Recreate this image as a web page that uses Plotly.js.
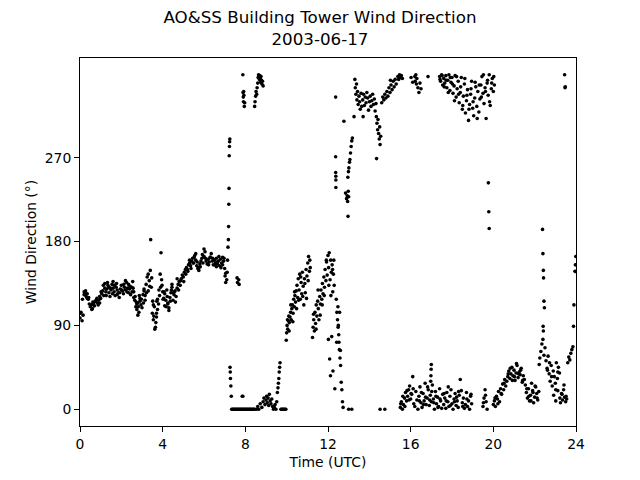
<!DOCTYPE html>
<html>
<head>
<meta charset="utf-8">
<script src="https://cdn.plot.ly/plotly-3.0.1.min.js"></script>
<style>html,body{margin:0;padding:0;background:#fff;}#chart{width:640px;height:480px;}</style>
</head>
<body>
<div id="chart"></div>
<script>
// Time (UTC hours) and wind direction (degrees), by segment
const morningHours = [
0.00,0.05,0.10,0.15,0.20,0.25,0.30,0.35,0.40,0.45,
0.50,0.55,0.60,0.65,0.70,0.75,0.80,0.85,0.90,0.95,
1.00,1.05,1.10,1.15,1.20,1.25,1.30,1.35,1.40,1.45,
1.50,1.55,1.60,1.65,1.70,1.75,1.80,1.85,1.90,1.95,
2.00,2.05,2.10,2.15,2.20,2.25,2.30,2.35,2.40,2.45,
2.50,2.55,2.60,2.65,2.70,2.75,2.80,2.85,2.90,2.95,
3.00,3.05,3.10,3.15,3.20,3.25,3.30,3.35,3.40,3.45,
3.50,3.55,3.60,3.65,3.70,3.75,3.80,3.85,3.90,3.95,
4.00,4.05,4.10,4.15,4.20,4.25,4.30,4.35,4.40,4.45,
4.50,4.55,4.60,4.65,4.70,4.75,4.80,4.85,4.90,4.95,
5.00,5.05,5.10,5.15,5.20,5.25,5.30,5.35,5.40,5.45,
5.50,5.55,5.60,5.65,5.70,5.75,5.80,5.85,5.90,5.95,
6.00,6.05,6.10,6.15,6.20,6.25,6.30,6.35,6.40,6.45,
6.50,6.55,6.60,6.65,6.70,6.75,6.80,6.85,6.90,6.95,
7.00,7.05,7.10];
const morningDir = [
98,104,95,101,123,125,121,124,118,113,
110,112,108,113,111,116,118,114,117,121,
119,124,127,122,130,126,129,133,125,121,
128,134,130,126,122,131,128,125,120,129,
133,127,124,131,128,136,130,125,129,123,
131,137,126,117,110,107,114,104,119,112,
109,123,129,117,134,142,127,138,149,131,
103,96,110,88,99,107,113,122,131,139,
126,119,111,117,128,114,109,120,125,131,
117,123,127,121,130,134,137,133,140,144,
142,147,150,152,150,155,157,154,159,162,
157,165,160,154,151,149,156,159,162,157,
164,169,159,156,161,158,163,167,159,155,
160,157,162,156,159,154,161,157,155,159,
151,146,139];
const morningExtraHours = [0.02,0.20,0.70,1.20,1.60,1.80,2.20,2.60,2.80,2.90,3.10,3.30,3.42,3.55,3.62,3.70,3.88,3.92,4.10,4.30,
4.45,4.70,5.30,5.60,6.00,6.30,6.60,6.90,7.02,7.05,0.35,0.95,1.40,2.35,2.75,3.15,3.75,4.25,4.55,5.75];
const morningExtraDir = [103,126,115,135,137,123,138,120,101,116,127,145,182,112,86,103,145,168,124,106,
134,140,160,167,172,163,153,163,143,136,119,114,131,134,113,122,118,113,126,152];
const morningBandHours = [
0.12,0.27,0.42,0.57,0.62,0.82,0.88,1.02,
1.13,1.27,1.33,1.47,1.57,1.67,1.77,1.92,
2.02,2.12,2.27,2.42,2.52,2.57,2.67,2.72,
2.82,2.87,2.97,3.07,3.22,3.37,3.47,3.52,
3.57,3.67,3.72,3.82,3.97,4.02,4.07,4.17,
4.22,4.37,4.42,4.52,4.62,4.77,4.87,5.02,
5.12,5.22,5.37,5.47,5.52,5.67,5.82,5.92,
6.07,6.22,6.42,6.52,6.62,6.72,6.82,6.97];
const morningBandDir = [
118,127,120,107,115,119,112,126,
133,122,136,130,124,133,135,125,
128,134,126,132,126,130,121,115,
110,122,118,114,125,132,141,116,
100,93,116,128,133,118,126,110,
121,116,128,125,115,128,138,137,
145,148,151,157,163,158,153,166,
162,155,162,155,158,164,152,162];

const shiftHours = [7.12,7.14,7.16,7.18,7.19,7.20,7.21,7.22,7.23,7.24,7.25,7.26,7.27,7.28,7.30,7.32,7.60,7.62,7.68,7.70,7.85,7.88];
const shiftDir = [147,160,174,182,196,220,237,272,282,287,290,45,40,33,25,14,141,136,139,134,14,14];

const calmHours = [7.34,7.38,7.42,7.46,7.50,7.54,7.58,7.62,7.66,7.70,7.74,7.78,7.82,7.86,7.90,7.94,7.98,8.02,8.06,8.10,
8.14,8.18,8.22,8.26,8.30,8.34,8.38,8.42,8.46,9.72,9.76,9.80,9.84,9.88,9.92,9.96,13.00,13.15,14.52,14.75];
const calmDir = [0,0,0,0,0,0,0,0,0,0,0,0,0,0,0,0,0,0,0,0,
0,0,0,0,0,0,0,0,0,0,0,0,0,0,0,0,0,0,0,0];

const northHours = [7.88,7.89,7.90,7.91,7.92,7.93,7.95,7.97,8.45,8.47,8.50,8.52,8.55,8.57,8.60,8.62,8.64,8.66,8.68,8.70,
8.72,8.74,8.76,8.78,8.80,8.83,8.86];
const northDir = [359,340,335,330,341,337,325,329,325,330,336,341,338,345,350,356,359,357,354,358,
355,351,357,353,349,352,347];

const lowHours = [8.55,8.60,8.65,8.72,8.80,8.86,8.90,8.95,9.00,9.03,9.06,9.10,9.13,9.16,9.20,9.24,9.28,9.32,9.36,9.40,
9.44,9.48,9.52,9.55,9.58,9.60,9.62,9.64,9.66,9.68];
const lowDir = [0,3,0,6,2,8,12,5,10,14,7,12,4,16,9,6,11,3,0,2,
5,0,8,18,23,28,33,40,45,50];

const veerHours = [9.98,10.00,10.02,10.05,10.08,10.10,10.13,10.16,10.19,10.22,10.25,10.28,10.31,10.34,10.37,10.40,10.43,10.46,10.50,10.53,
10.56,10.60,10.63,10.66,10.70,10.73,10.76,10.80,10.83,10.86,10.90,10.94,10.98,11.02,11.06,11.10,11.14,
11.25,11.28,11.31,11.34,11.37,11.40,11.43,11.46,11.50,11.53,11.56,11.60,11.63,11.66,11.70,11.73,11.76,11.80,11.83,
11.86,11.90,11.93,11.96,12.00,12.03,12.06,12.10,12.13,12.16,12.20,12.23,12.26,12.30,
12.02,12.08,12.12,12.18,12.24,12.33,
12.40,12.43,12.46,12.49,12.52,12.55,12.58,12.61,12.64,12.67,12.70,12.73,12.48,12.50,12.53];
const veerDir = [74,82,90,86,95,100,93,99,104,96,108,112,103,118,110,122,115,127,133,120,
140,128,145,118,136,124,147,132,112,140,125,150,143,157,164,148,152,
77,88,96,84,104,92,112,100,116,108,96,121,113,128,118,135,124,142,131,
150,138,158,144,165,152,168,139,160,147,155,126,145,133,
75,54,36,78,41,22,
118,104,96,88,80,64,55,47,29,21,8,2,110,90,72];
const veerExtraHours = [10.04,10.12,10.20,10.30,10.38,10.48,10.58,10.68,10.78,10.88,
10.96,11.04,11.12,11.30,11.42,11.52,11.62,11.72,11.82,11.92,
12.04,12.14,12.22,12.28,12.42,12.56,12.60];
const veerExtraDir = [96,84,112,94,126,108,117,142,121,135,
119,138,160,102,86,128,101,112,122,160,
133,122,150,160,72,104,63];

const backHours = [12.37,12.37,12.37,12.38,12.38,12.38,12.77,
12.85,12.90,12.93,12.95,12.98,13.00,12.97,
12.96,12.99,13.01,13.04,13.06,13.09,13.12,13.15,13.18,
13.26,13.30,13.32,13.35,13.38,13.40,13.43,13.46,13.50,13.53,13.56,13.60,13.63,13.70,
13.68,13.72,13.76,13.80,13.84,13.88,13.92,13.96,14.00,14.04,14.08,14.12,14.16,14.20,14.24,14.28,14.32,
14.34,14.37,14.40,14.42,14.45,14.48,14.50,14.52,14.55,14.35,
14.60,14.65,14.70,14.75,14.80,14.85,14.90,14.95,15.00,15.05,15.10,15.15,15.20,15.25,15.30,
15.38,15.42,15.46,15.50,15.55,15.60,
16.20,16.22,16.25,16.28,16.30,16.35,16.40,16.45,16.50,16.84];
const backDir = [335,271,254,250,246,238,309,
232,226,229,223,234,228,207,
249,255,259,265,268,275,282,288,291,
314,354,345,338,349,332,341,327,336,330,322,339,325,314,
332,338,326,335,329,340,334,321,330,336,325,331,338,327,333,320,328,
314,307,300,311,296,290,303,284,293,269,
329,335,332,338,334,341,336,345,340,348,343,352,346,354,349,
357,354,359,356,358,355,
357,352,359,349,355,345,340,350,344,357];

const afternoonNorthHours = [17.40,17.45,17.50,17.55,17.60,17.65,17.70,17.75,17.80,17.85,17.90,17.95,18.00,18.05,18.10,18.15,18.20,18.25,18.30,18.35,
18.40,18.45,18.50,18.55,18.60,18.65,18.70,18.75,18.80,18.85,18.90,18.95,19.00,19.05,19.10,19.15,19.20,19.25,19.30,19.35,
19.40,19.45,19.50,19.55,19.60,19.65,19.70,19.75,19.80,19.85,19.90,19.95,20.00,20.05,
19.76,19.78,19.80,23.45,23.47,23.48];
const afternoonNorthDir = [357,352,359,348,355,350,358,345,353,359,342,351,356,339,347,358,335,344,352,329,
340,356,322,336,349,318,331,343,310,327,338,352,323,315,334,346,325,341,319,333,
348,357,339,328,345,312,350,337,359,326,344,355,341,348,
243,212,194,359,345,346];
const northExtraHours = [17.42,17.52,17.62,17.72,17.82,17.92,18.02,18.12,18.22,18.32,
18.42,18.52,18.62,18.72,18.82,18.92,19.02,19.12,19.22,19.32,
19.42,19.52,19.62,19.72,19.82,19.92,20.02,15.02,16.02,16.10];
const northExtraDir = [354,358,346,353,340,356,349,331,357,338,
346,326,355,337,322,344,330,351,312,348,
335,359,341,353,330,350,357,353,356,351];

const eveningHours = [15.50,15.55,15.60,15.65,15.70,15.75,15.80,15.85,15.90,15.95,16.00,16.05,16.10,
16.15,16.20,16.25,16.30,16.35,16.40,16.45,16.50,16.55,16.60,16.65,16.70,16.75,16.80,16.85,16.90,16.95,17.00,17.05,17.10,
17.15,17.20,17.25,17.30,17.35,17.40,17.45,17.50,17.55,16.97,16.98,16.99,17.00,
17.60,17.65,17.70,17.75,17.80,17.85,17.90,17.95,18.00,18.05,18.10,18.15,18.20,18.25,18.30,18.35,18.40,18.45,18.50,18.55,
18.60,18.65,18.70,18.75,18.80,18.85,18.90,18.95,
19.50,19.55,19.60,19.65,19.70,
20.00,20.05,20.10,20.15,20.20,20.25,20.30,20.35,20.40,20.45,20.50,20.55,20.60,20.65,
20.70,20.75,20.80,20.85,20.90,20.95,21.00,21.05,21.10,21.15,21.20,21.25,21.30,21.35,21.40,21.45,21.50,
21.55,21.60,21.65,21.70,21.75,21.80,21.85,21.90,21.95,22.00,22.05,22.10,22.15,22.20,
22.22,22.25,22.30,22.35,22.40,22.45,22.50,22.38,22.40,22.42,22.43,22.45,22.47,22.41,22.42,
22.55,22.60,22.65,22.70,22.75,22.80,22.85,22.90,22.95,23.00,23.05,23.10,23.15,23.20,
22.92,23.02,23.12,23.22,23.25,23.30,23.35,23.40,23.45,23.50,23.55,
23.60,23.65,23.70,23.75,23.80,23.85,23.88,23.90,23.95,23.97,23.99];
const eveningDir = [2,8,0,5,12,18,9,14,21,25,11,16,35,
6,3,19,10,0,14,24,7,2,17,9,28,5,12,21,4,15,8,26,11,
0,19,6,13,3,22,9,1,16,30,36,43,48,
5,12,1,18,8,3,14,21,6,0,11,17,4,9,2,15,32,20,7,12,
1,5,18,3,9,0,14,6,
3,12,21,8,0,
5,9,3,14,11,19,8,22,16,27,21,32,25,30,
35,41,33,38,45,36,42,31,39,47,34,40,37,44,29,36,32,
26,18,12,22,9,15,28,20,7,13,24,17,10,19,
48,55,62,70,75,58,66,193,167,149,141,116,109,89,84,
52,44,57,38,30,47,25,41,35,28,50,33,45,39,
15,9,20,12,7,17,10,21,13,8,11,
50,56,53,60,64,67,89,112,148,155,164];
const eveningExtraHours = [15.52,15.62,15.72,15.82,15.92,16.02,16.12,16.42,16.52,16.62,
16.72,16.82,16.92,17.02,17.12,17.22,17.32,17.42,17.62,17.72,
17.82,17.92,18.12,18.22,18.32,18.52,18.72,18.92,19.52,19.62,
20.08,20.22,20.38,20.52,20.72,20.82,20.92,21.02,21.12,21.22,
21.32,21.42,21.62,21.72,21.82,21.92,22.02,22.12,22.62,22.72,
22.82,23.02,23.12,23.32,23.42,23.52];
const eveningExtraDir = [6,14,3,20,10,17,22,9,18,5,
13,24,10,19,7,14,2,11,17,9,
24,4,8,13,19,3,11,16,7,15,
12,6,17,28,38,44,31,35,49,38,
42,31,22,14,9,18,25,12,42,50,
35,21,40,16,26,14];

const xTicks = [0,4,8,12,16,20,24];
const yTicks = [0,90,180,270];

const hours = [].concat(morningHours, morningExtraHours, morningBandHours, shiftHours, calmHours, northHours, lowHours,
  veerHours, veerExtraHours, backHours, afternoonNorthHours, northExtraHours, eveningHours, eveningExtraHours);
const direction = [].concat(morningDir, morningExtraDir, morningBandDir, shiftDir, calmDir, northDir, lowDir,
  veerDir, veerExtraDir, backDir, afternoonNorthDir, northExtraDir, eveningDir, eveningExtraDir);

const trace = {
  x: hours, y: direction, type: 'scatter', mode: 'markers',
  marker: {color: '#000000', size: 3.6, line: {width: 0}},
  hoverinfo: 'x+y', showlegend: false
};

const axisCommon = {
  showgrid: false, zeroline: false, showline: true, linecolor: '#000', linewidth: 1,
  mirror: true, ticks: 'outside', ticklen: 5, tickwidth: 1, tickcolor: '#000',
  tickfont: {size: 13.9, color: '#000'}
};

const layout = {
  width: 640, height: 480,
  paper_bgcolor: '#fff', plot_bgcolor: '#fff',
  font: {family: 'DejaVu Sans, sans-serif', color: '#000', size: 13.9},
  margin: {l: 80, r: 64, t: 58, b: 54},
  title: {text: 'AO&amp;SS Building Tower Wind Direction<br>2003-06-17',
    font: {size: 16.7, color: '#000'}, xref: 'container', x: 0.5, xanchor: 'center',
    yref: 'container', y: 0.952, yanchor: 'top'},
  xaxis: Object.assign({}, axisCommon, {range: [0, 24], tickmode: 'array', tickvals: xTicks,
    ticktext: xTicks.map(String), title: {text: 'Time (UTC)', font: {size: 13.9}, standoff: 6}}),
  yaxis: Object.assign({}, axisCommon, {range: [-17.95, 376.95], tickmode: 'array', tickvals: yTicks,
    ticktext: yTicks.map(String), title: {text: 'Wind Direction (°)', font: {size: 13.9}, standoff: 4}})
};

Plotly.newPlot('chart', [trace], layout, {displayModeBar: false, staticPlot: true});
</script>
</body>
</html>
